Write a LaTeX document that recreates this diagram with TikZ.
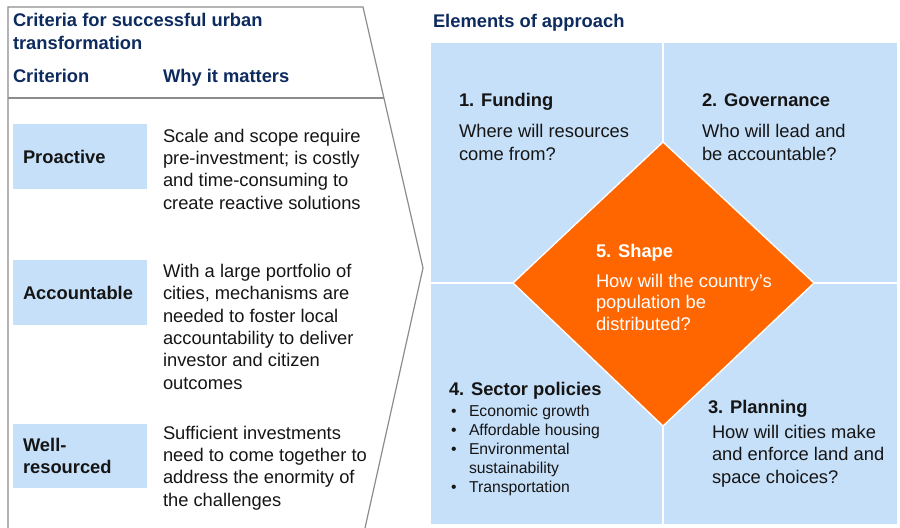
\documentclass[tikz,border=0pt]{standalone}
\usepackage{fontspec}
\setmainfont{Liberation Sans}
\definecolor{navy}{HTML}{0D2B5E}
\definecolor{lblue}{HTML}{C7E0F9}
\definecolor{orng}{HTML}{FF6600}
\definecolor{outl}{HTML}{8C8C8C}
\definecolor{txt}{HTML}{151515}
\begin{document}
\begin{tikzpicture}[x=0.75pt,y=-0.75pt,
  every node/.style={inner sep=0pt, outer sep=0pt, anchor=base west, align=left, text=txt},
  body/.style={font=\fontsize{13.75}{16.7}\selectfont},
  head/.style={font=\bfseries\fontsize{13.75}{17.3}\selectfont, text=navy},
  lab/.style={font=\bfseries\fontsize{13.75}{16.5}\selectfont},
  small/.style={font=\fontsize{11.8}{14.2}\selectfont},
  critbox/.style={fill=lblue, draw=none},
  panel/.style={draw=outl, line width=0.9pt},
  divider/.style={draw=white, line width=1.3pt}]
\useasboundingbox (0,0) rectangle (900,528);
% left panel outline
\draw[panel] (8,528) -- (8,7) -- (363,7) -- (423,268) -- (365,528);
\draw[panel] (8,98) -- (384,98);
% multi-line nodes are placed at the baseline of their last line
\node[head] (title) at (13,50) {Criteria for successful urban\\transformation};
\node[head] (crit) at (13,83) {Criterion};
\node[head] (why) at (163,83) {Why it matters};
% criterion boxes
\fill[critbox] (13,124) rectangle (147,189);
\fill[critbox] (13,260) rectangle (147,325);
\fill[critbox] (13,424) rectangle (147,488);
\node[lab] (pro) at (23,163) {Proactive};
\node[lab] (acc) at (23,299) {Accountable};
\node[lab] (well) at (23,473) {Well-\\resourced};
\node[body] (d1) at (163,209) {Scale and scope require\\pre-investment; is costly\\and time-consuming to\\create reactive solutions};
\node[body] (d2) at (163,389) {With a large portfolio of\\cities, mechanisms are\\needed to foster local\\accountability to deliver\\investor and citizen\\outcomes};
\node[body] (d3) at (163,506) {Sufficient investments\\need to come together to\\address the enormity of\\the challenges};
% right panel
\node[head] (elem) at (433,28) {Elements of approach};
\fill[lblue] (431,43) rectangle (897,524);
\draw[divider] (663,43) -- (663,524);
\draw[divider] (431,283) -- (897,283);
\coordinate (dt) at (663,142);
\coordinate (dr) at (814,283);
\coordinate (db) at (663,426);
\coordinate (dl) at (513,283);
\filldraw[fill=orng, draw=white, line width=1pt] (dt) -- (dr) -- (db) -- (dl) -- cycle;
\node[lab] (f1) at (459,107) {1. Funding};
\node[body] (f2) at (459,160) {Where will resources\\come from?};
\node[lab] (g1) at (702,107) {2. Governance};
\node[body] (g2) at (702,160) {Who will lead and\\be accountable?};
\node[lab, text=white] (s1) at (596,257) {5. Shape};
\node[body, text=white, font=\fontsize{13.75}{16.1}\selectfont] (s2) at (596,330) {How will the country’s\\population be\\distributed?};
\node[lab] (p1) at (708,413) {3. Planning};
\node[body] (p2) at (712,483) {How will cities make\\and enforce land and\\space choices?};
\node[lab] (sp) at (449,395) {4. Sector policies};
\node[small] (b1) at (451,416) {•};
\node[small] (b1t) at (469,416) {Economic growth};
\node[small] (b2) at (451,435) {•};
\node[small] (b2t) at (469,435) {Affordable housing};
\node[small] (b3) at (451,454) {•};
\node[small] (b3t) at (469,473) {Environmental\\sustainability};
\node[small] (b4) at (451,492) {•};
\node[small] (b4t) at (469,492) {Transportation};
\end{tikzpicture}
\end{document}
